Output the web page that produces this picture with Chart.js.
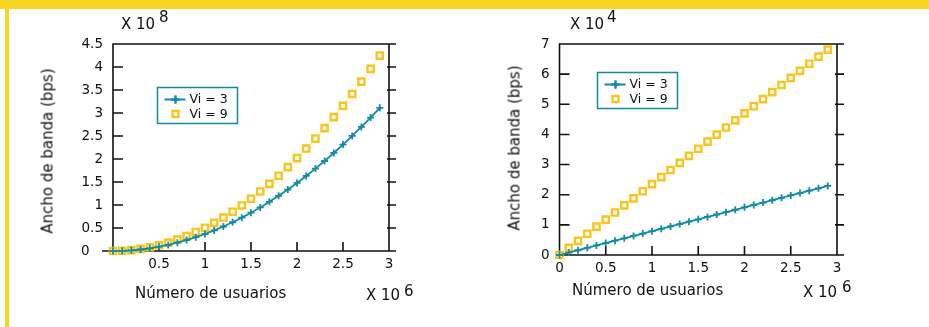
<!DOCTYPE html>
<html>
<head>
<meta charset="utf-8">
<script src="https://cdn.jsdelivr.net/npm/chart.js@4.4.0/dist/chart.umd.min.js"></script>
<style>
body { margin: 0; width: 929px; height: 327px; position: relative; background: #fff; overflow: hidden; font-family: 'DejaVu Sans'; color: #111; }
.banda { position: absolute; left: 0; top: 0; width: 929px; height: 9px; background: #f8d423; }
.lado { position: absolute; left: 5px; top: 0; width: 4px; height: 327px; background: #f8d423; }
canvas { position: absolute; top: 0; }
.t { position: absolute; font-size: 15px; line-height: 15px; white-space: nowrap; }
.rot { transform: translate(-50%, -50%) rotate(-90deg); }
</style>
</head>
<body>
<div class="banda"></div>
<div class="lado"></div>
<canvas id="g1" width="465" height="327" style="left:0"></canvas>
<canvas id="g2" width="464" height="327" style="left:465px"></canvas>

<div class="t" style="left:121px;top:17px">X 10</div>
<div class="t" style="left:159px;top:10px">8</div>
<div class="t" style="left:570px;top:17px">X 10</div>
<div class="t" style="left:607px;top:10px">4</div>

<div class="t rot" style="left:48px;top:151px">Ancho de banda (bps)</div>
<div class="t rot" style="left:515px;top:148px">Ancho de banda (bps)</div>

<div class="t" style="left:135px;top:286px">Número de usuarios</div>
<div class="t" style="left:366px;top:288px">X 10</div>
<div class="t" style="left:404px;top:284px">6</div>

<div class="t" style="left:572px;top:283px">Número de usuarios</div>
<div class="t" style="left:803px;top:285px">X 10</div>
<div class="t" style="left:842px;top:280px">6</div>

<script>
// usuarios (x 10^6)
var usuarios = [0, 0.1, 0.2, 0.3, 0.4, 0.5, 0.6, 0.7, 0.8, 0.9, 1.0, 1.1, 1.2, 1.3, 1.4,
                1.5, 1.6, 1.7, 1.8, 1.9, 2.0, 2.1, 2.2, 2.3, 2.4, 2.5, 2.6, 2.7, 2.8, 2.9];

// grafico izquierdo (x 10^8 bps)
var anchoVi3 = [0, 0.004, 0.015, 0.033, 0.059, 0.093, 0.133, 0.181, 0.237, 0.30, 0.37, 0.448, 0.533, 0.625, 0.725,
                0.833, 0.947, 1.069, 1.199, 1.336, 1.48, 1.632, 1.791, 1.957, 2.131, 2.313, 2.501, 2.697, 2.901, 3.112];
var anchoVi9 = [0, 0.005, 0.02, 0.045, 0.081, 0.126, 0.182, 0.247, 0.323, 0.409, 0.505, 0.611, 0.727, 0.853, 0.99,
                1.136, 1.293, 1.459, 1.636, 1.823, 2.02, 2.227, 2.444, 2.671, 2.909, 3.156, 3.414, 3.681, 3.959, 4.247];

// grafico derecho (x 10^4 bps)
var tasaVi3 = [0, 0.079, 0.158, 0.237, 0.316, 0.395, 0.474, 0.553, 0.632, 0.711, 0.79, 0.869, 0.948, 1.027, 1.106,
               1.185, 1.264, 1.343, 1.422, 1.501, 1.58, 1.659, 1.738, 1.817, 1.896, 1.975, 2.054, 2.133, 2.212, 2.291];
var tasaVi9 = [0, 0.235, 0.47, 0.705, 0.94, 1.175, 1.41, 1.645, 1.88, 2.115, 2.35, 2.585, 2.82, 3.055, 3.29,
               3.525, 3.76, 3.995, 4.23, 4.465, 4.7, 4.935, 5.17, 5.405, 5.64, 5.875, 6.11, 6.345, 6.58, 6.815];

var etiquetas = ['Vi = 3', 'Vi = 9'];

var AZUL = '#138ba3';
var AMARILLO = '#f6c51f';
var FUENTE = 'DejaVu Sans';

// marco con marcas hacia dentro
var marco = {
  id: 'marco',
  beforeDatasetsDraw: function(chart, args, o) {
    var ctx = chart.ctx, a = chart.chartArea;
    var sx = chart.scales.x, sy = chart.scales.y;
    ctx.save();
    ctx.strokeStyle = '#111';
    ctx.lineWidth = 1.6;
    ctx.beginPath();
    ctx.rect(a.left, a.top, a.right - a.left, a.bottom - a.top);
    if (o.ext) { ctx.moveTo(a.left - o.ext, a.bottom); ctx.lineTo(a.left, a.bottom); }
    sx.ticks.forEach(function(t) {
      var px = sx.getPixelForValue(t.value);
      ctx.moveTo(px, a.bottom); ctx.lineTo(px, a.bottom - 9);
    });
    sy.ticks.forEach(function(t) {
      var py = sy.getPixelForValue(t.value);
      ctx.moveTo(a.left, py); ctx.lineTo(a.left + 10, py);
      ctx.moveTo(a.right - 2, py); ctx.lineTo(a.right + 7, py);
    });
    ctx.stroke();
    ctx.restore();
  }
};

var leyenda = {
  id: 'leyenda',
  afterDraw: function(chart, args, o) {
    var ctx = chart.ctx, x = o.x, y = o.y;
    ctx.save();
    ctx.strokeStyle = AZUL;
    ctx.lineWidth = 1.5;
    ctx.strokeRect(x, y, 80, 36);
    var ds = chart.data.datasets;
    // Vi = 3
    ctx.beginPath();
    ctx.lineWidth = 2;
    ctx.moveTo(x + 7, y + 12); ctx.lineTo(x + 28, y + 12);
    ctx.stroke();
    Chart.helpers.drawPoint(ctx, { pointStyle: 'cross', radius: 4, borderWidth: 2 }, x + 18, y + 12);
    ctx.stroke();
    // Vi = 9
    ctx.strokeStyle = AMARILLO;
    ctx.fillStyle = '#fff';
    ctx.lineWidth = 2.4;
    ctx.beginPath();
    ctx.rect(x + 15, y + 23.5, 6, 6);
    ctx.fill(); ctx.stroke();
    ctx.fillStyle = '#111';
    ctx.font = '12.5px "' + FUENTE + '"';
    ctx.textBaseline = 'middle';
    ctx.fillText(ds[0].label, x + 32, y + 12);
    ctx.fillText(ds[1].label, x + 32, y + 27);
    ctx.restore();
  }
};

function serie(ys) {
  return usuarios.map(function(u, i) { return { x: u, y: ys[i] }; });
}

function grafico(id, vi3, vi9, o) {
  return new Chart(document.getElementById(id), {
    type: 'line',
    data: {
      datasets: [{
        label: etiquetas[0],
        data: serie(vi3),
        borderColor: AZUL,
        borderWidth: 1.8,
        pointStyle: 'cross',
        pointRadius: 3.5,
        pointBorderWidth: 1.8,
        pointBorderColor: AZUL,
        clip: false
      }, {
        label: etiquetas[1],
        data: serie(vi9),
        borderColor: '#f7da6e',
        borderWidth: 1,
        borderDash: [1.5, 2],
        pointStyle: 'rect',
        pointRadius: 4.4,
        pointBorderColor: AMARILLO,
        pointBackgroundColor: '#fff',
        pointBorderWidth: 2.4,
        clip: false
      }]
    },
    options: {
      responsive: false,
      animation: false,
      layout: { padding: { top: 44, right: o.padDer, left: 0, bottom: 0 } },
      plugins: {
        legend: { display: false },
        tooltip: { enabled: false },
        marco: { ext: o.ext },
        leyenda: { x: o.legX, y: o.legY }
      },
      scales: {
        x: {
          type: 'linear', min: 0, max: 3,
          grid: { display: false, drawTicks: false },
          border: { display: false },
          ticks: {
            stepSize: 0.5, padding: 5, color: '#111', maxRotation: 0,
            font: { family: FUENTE, size: 13.5 },
            callback: function(v) { return (v === 0 && !o.cero) ? '' : String(v); }
          },
          afterFit: function(s) { s.height = o.altoX; }
        },
        y: {
          min: 0, max: o.yMax,
          grid: { display: false, drawTicks: false },
          border: { display: false },
          ticks: {
            stepSize: o.paso, padding: 10, color: '#111',
            font: { family: FUENTE, size: 13.5 },
            callback: function(v) { return (v === 0 && o.ceroEsp) ? '0\u2002\u2002' : String(v); }
          },
          afterFit: function(s) { s.width = o.anchoY; }
        }
      }
    },
    plugins: [marco, leyenda]
  });
}

grafico('g1', anchoVi3, anchoVi9, {
  padDer: 76, anchoY: 113, altoX: 76, yMax: 4.5, paso: 0.5,
  ext: 11, cero: false, ceroEsp: true, legX: 157.5, legY: 87.5
});
grafico('g2', tasaVi3, tasaVi9, {
  padDer: 92, anchoY: 94.5, altoX: 72, yMax: 7, paso: 1,
  ext: 0, cero: true, ceroEsp: false, legX: 132.5, legY: 72.5
});
</script>
</body>
</html>
